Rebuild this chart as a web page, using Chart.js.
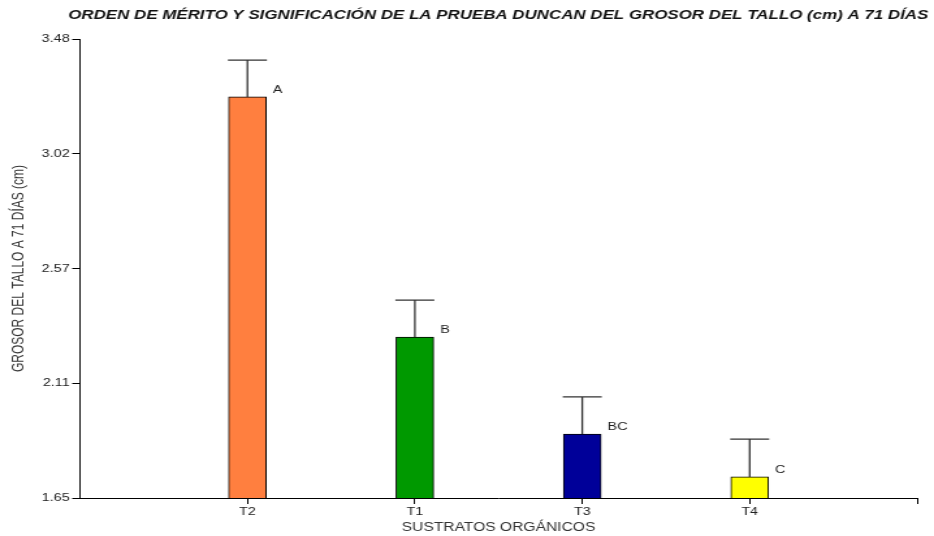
<!DOCTYPE html>
<html>
<head>
<meta charset="utf-8">
<script src="https://cdn.jsdelivr.net/npm/chart.js@4"></script>
<style>
  html, body { margin: 0; padding: 0; background: #fff; }
</style>
</head>
<body>
<!-- the original picture is a horizontally stretched export, so draw narrower and stretch -->
<canvas id="chartBars" width="718" height="536" style="width:934px;height:536px;display:block"></canvas>
<script>
const categories = ['T2', 'T1', 'T3', 'T4'];
const means = [3.249, 2.292, 1.905, 1.734];
const errors = [0.147, 0.147, 0.148, 0.151];
const groups = ['A', 'B', 'BC', 'C'];
const barColors = ['#ff7f3f', '#009900', '#000099', '#ffff00'];
const yTickValues = [1.65, 2.1075, 2.565, 3.0225, 3.48];
const yTickLabels = ['1.65', '2.11', '2.57', '3.02', '3.48'];

const titleText = 'ORDEN DE MÉRITO Y SIGNIFICACIÓN DE LA PRUEBA DUNCAN DEL GROSOR DEL TALLO (cm) A 71 DÍAS';
const FONT = '"Liberation Sans", Arial, sans-serif';

// one empty slot on each side so the bars sit at 1..4 on a 0..5 axis
const labels = [''].concat(categories, ['']);
const padded = arr => [null].concat(arr, [null]);

// error bars + duncan letters
const extras = {
  id: 'extras',
  afterDatasetsDraw(chart) {
    const ctx = chart.ctx;
    const meta = chart.getDatasetMeta(0);
    const y = chart.scales.y;
    ctx.save();
    meta.data.forEach((bar, i) => {
      const k = i - 1;
      if (k < 0 || k >= means.length) return;
      const top = y.getPixelForValue(means[k]);
      const errTop = y.getPixelForValue(means[k] + errors[k]);
      ctx.strokeStyle = '#333';
      ctx.lineWidth = 1.3;
      ctx.beginPath();
      ctx.moveTo(bar.x, top);
      ctx.lineTo(bar.x, errTop);
      ctx.moveTo(bar.x - 15, errTop);
      ctx.lineTo(bar.x + 15, errTop);
      ctx.stroke();
      ctx.fillStyle = '#222';
      ctx.font = '11px ' + FONT;
      ctx.textAlign = 'left';
      ctx.textBaseline = 'middle';
      ctx.fillText(groups[k], bar.x + bar.width / 2 + 5, top - 7);
    });
    ctx.restore();
  }
};

const topTitle = {
  id: 'topTitle',
  afterDraw(chart) {
    const ctx = chart.ctx;
    ctx.save();
    ctx.fillStyle = '#111';
    ctx.font = 'italic bold 13px ' + FONT;
    ctx.textAlign = 'center';
    ctx.textBaseline = 'middle';
    ctx.fillText(titleText, 383, 15);
    ctx.restore();
  }
};

const chartBars = document.getElementById('chartBars').getContext('2d');

let myChart = new Chart(chartBars, {
  type: 'bar',
  data: {
    labels: labels,
    datasets: [{
      data: padded(means),
      backgroundColor: padded(barColors),
      borderColor: '#000',
      borderWidth: 1,
      borderSkipped: 'bottom',
      barThickness: 29
    }]
  },
  options: {
    responsive: false,
    animation: false,
    layout: { padding: { top: 39, right: 13, left: 0, bottom: 0 } },
    plugins: {
      legend: { display: false },
      tooltip: { enabled: false },
      title: { display: false }
    },
    scales: {
      x: {
        offset: false,
        grid: {
          offset: false, drawOnChartArea: false, drawTicks: true, tickLength: 6,
          color: c => (c.index === 0 ? 'rgba(0,0,0,0)' : '#000')
        },
        border: { color: '#000', width: 1 },
        ticks: { color: '#222', font: { family: FONT, size: 11 }, padding: 1, maxRotation: 0, autoSkip: false },
        title: {
          display: true, text: 'SUSTRATOS ORGÁNICOS', color: '#333',
          font: { family: FONT, size: 12 }, padding: { top: 0, bottom: 1 }
        },
        afterFit(scale) { scale.height = 38; }
      },
      y: {
        min: 1.65,
        max: 3.48,
        grid: { drawOnChartArea: false, drawTicks: true, tickLength: 6, color: '#000' },
        border: { color: '#000', width: 1 },
        afterBuildTicks(scale) { scale.ticks = yTickValues.map(v => ({ value: v })); },
        ticks: {
          color: '#222', font: { family: FONT, size: 11 }, padding: 2,
          callback: (v, i) => yTickLabels[i]
        },
        title: {
          display: true, text: 'GROSOR DEL TALLO A 71 DÍAS (cm)', color: '#333',
          font: { family: FONT, size: 12 }, padding: { top: 7, bottom: 0 }
        },
        afterFit(scale) { scale.width = 61.5; }
      }
    }
  },
  plugins: [extras, topTitle]
});
</script>
</body>
</html>
